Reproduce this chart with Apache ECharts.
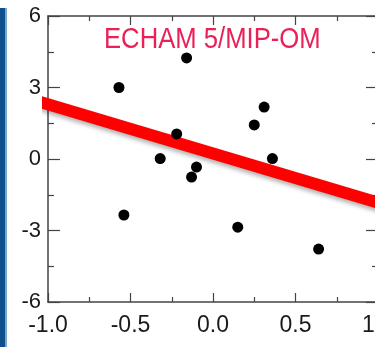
<!DOCTYPE html>
<html>
<head>
<meta charset="utf-8">
<script src="https://cdn.jsdelivr.net/npm/echarts@6/dist/echarts.min.js"></script>
<style>
  html, body { margin: 0; padding: 0; background: #fff; }
  #chart { width: 375px; height: 347px; }
</style>
</head>
<body>
<div id="chart"></div>
<script>
  // scatter points
  const pointX = [-0.57, -0.16, 0.31, 0.25, -0.22, -0.32, -0.10, -0.13, 0.36, -0.54, 0.15, 0.64]
  const pointY = [3.0, 4.24, 2.18, 1.43, 1.05, 0.02, -0.34, -0.76, 0.02, -2.35, -2.86, -3.78]
  // regression line end points
  const trendX = [-1.09, 1.05]
  const trendY = [2.48, -1.93]
  const xTicks = [-1.0, -0.5, 0.0, 0.5, 1.0]
  const yTicks = [-6, -3, 0, 3, 6]
  const titleText = 'ECHAM 5/MIP-OM'

  const axisColor = '#444'
  const labelFont = 'Liberation Sans'

  const chart = echarts.init(document.getElementById('chart'))

  const xBase = {
    type: 'value',
    min: xTicks[0],
    max: xTicks[xTicks.length - 1],
    interval: 0.5,
    splitLine: { show: false },
    axisLine: { show: true, onZero: false, lineStyle: { color: axisColor, width: 1.5 } },
    axisTick: { show: true, inside: true, length: 9, lineStyle: { color: axisColor, width: 1.2 } },
    minorTick: { show: true, splitNumber: 2, length: 5, lineStyle: { color: axisColor, width: 1.2 } }
  }
  const yBase = {
    type: 'value',
    min: yTicks[0],
    max: yTicks[yTicks.length - 1],
    interval: 3,
    splitLine: { show: false },
    axisLine: { show: true, onZero: false, lineStyle: { color: axisColor, width: 1.5 } },
    axisTick: { show: true, inside: true, length: 12, lineStyle: { color: axisColor, width: 1.2 } },
    minorTick: { show: true, splitNumber: 2, length: 6, lineStyle: { color: axisColor, width: 1.2 } }
  }

  chart.setOption({
    animation: false,
    backgroundColor: '#fff',
    grid: { left: 48, top: 16, right: -3, bottom: 45, outerBoundsMode: 'none', containLabel: false },
    xAxis: [
      {
        ...xBase,
        position: 'bottom',
        axisLabel: {
          show: true,
          margin: 12,
          color: '#1a1a1a',
          fontSize: 23,
          fontFamily: labelFont,
          formatter: (v) => v.toFixed(1)
        }
      },
      { ...xBase, position: 'top', axisLabel: { show: false } }
    ],
    yAxis: [
      {
        ...yBase,
        position: 'left',
        axisLabel: {
          show: true,
          margin: 7,
          color: '#1a1a1a',
          fontSize: 22,
          fontFamily: labelFont
        }
      },
      { ...yBase, position: 'right', axisLabel: { show: false } }
    ],
    series: [
      {
        type: 'line',
        data: trendX.map((x, i) => [x, trendY[i]]),
        clip: false,
        symbol: 'none',
        z: 3,
        lineStyle: {
          color: '#ff0000',
          width: 12,
          cap: 'butt',
          shadowColor: 'rgba(0,0,0,0.3)',
          shadowBlur: 4,
          shadowOffsetY: 3
        }
      },
      {
        type: 'scatter',
        data: pointX.map((x, i) => [x, pointY[i]]),
        symbol: 'circle',
        symbolSize: 11,
        z: 5,
        itemStyle: { color: '#000', opacity: 1 }
      }
    ],
    graphic: [
      // blue frame strip on the left
      { type: 'rect', left: 0, top: 8, shape: { width: 5, height: 339 }, style: { fill: '#0f4f8e' } },
      { type: 'rect', left: 5, top: 8, shape: { width: 2, height: 339 }, style: { fill: '#7aa5cf' } },
      {
        type: 'text',
        x: 104,
        y: 40,
        scaleX: 0.855,
        z: 10,
        style: {
          text: titleText,
          fill: '#ea2157',
          font: '30px "Liberation Sans"',
          textAlign: 'left',
          textVerticalAlign: 'middle'
        }
      }
    ]
  })
</script>
</body>
</html>
